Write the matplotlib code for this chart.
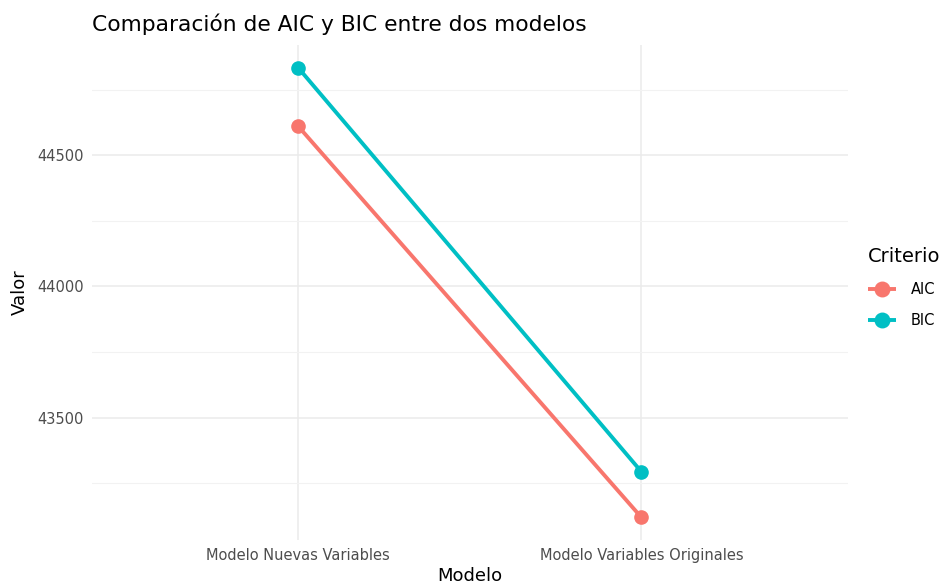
import matplotlib
matplotlib.use("Agg")
import matplotlib.pyplot as plt
from matplotlib.ticker import MultipleLocator

modelos = ["Modelo Nuevas Variables", "Modelo Variables Originales"]
aic = [44611, 43119]
bic = [44834, 43293]
criterios = ["AIC", "BIC"]
colores = ["#F8766D", "#00BFC4"]
yticks = [43500, 44000, 44500]

fig = plt.figure(figsize=(9.48, 5.85), dpi=100)
ax = fig.add_axes([0.097, 0.077, 0.797, 0.846])

x = list(range(1, len(modelos) + 1))
for nombre, vals, c in zip(criterios, [aic, bic], colores):
    ax.plot(x, vals, color=c, lw=2.8, marker="o", markersize=9.5, label=nombre,
            solid_capstyle="butt", zorder=3)

allv = aic + bic
lo, hi = min(allv), max(allv)
pad = (hi - lo) * 0.05
ax.set_ylim(lo - pad, hi + pad)
ax.set_xlim(0.4, 2.6)
ax.set_xticks(x)
ax.set_xticklabels(modelos)
ax.set_yticks(yticks)
ax.yaxis.set_minor_locator(MultipleLocator(250))

ax.grid(True, which="major", color="#EBEBEB", lw=1.1)
ax.grid(True, which="minor", axis="y", color="#F2F2F2", lw=0.8)
ax.set_axisbelow(True)
for s in ax.spines.values():
    s.set_visible(False)
ax.tick_params(which="both", length=0, labelsize=10.5, labelcolor="#4D4D4D", pad=6)

ax.set_xlabel("Modelo", fontsize=13, labelpad=3)
ax.set_ylabel("Valor", fontsize=13, labelpad=6)
ax.set_title("Comparación de AIC y BIC entre dos modelos", fontsize=15.7, loc="left", pad=10, x=-0.0)

leg = ax.legend(title="Criterio", loc="center left", bbox_to_anchor=(1.01, 0.51),
                frameon=False, fontsize=10.5, title_fontsize=14, handlelength=1.9,
                handletextpad=1.0, labelspacing=1.1, markerscale=1.1)
leg._legend_box.align = "left"

fig.savefig("out.png", dpi=100)
